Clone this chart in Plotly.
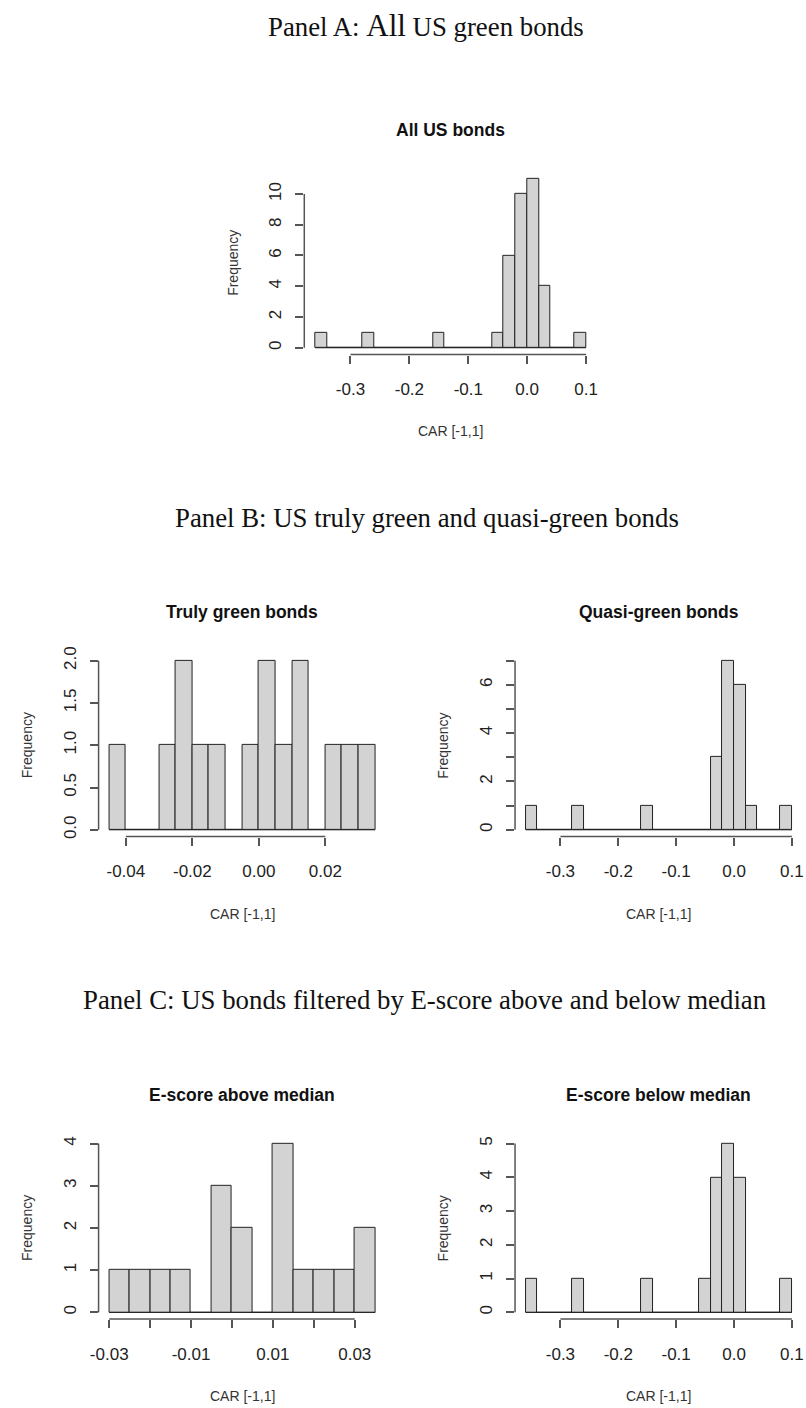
import plotly.graph_objects as go

W, H = 806, 1408

# ---------------- data (histogram counts) ----------------
panel_titles = ["All US bonds", "Truly green bonds", "Quasi-green bonds",
                "E-score above median", "E-score below median"]

# bin layout: first break and bin width
all_bin_start, all_bin_width = -0.36, 0.02
all_counts = [1, 0, 0, 0, 1, 0, 0, 0, 0, 0, 1, 0, 0, 0, 0, 1, 6, 10, 11, 4, 0, 0, 1]

truly_bin_start, truly_bin_width = -0.045, 0.005
truly_counts = [1, 0, 0, 1, 2, 1, 1, 0, 1, 2, 1, 2, 0, 1, 1, 1]

quasi_bin_start, quasi_bin_width = -0.36, 0.02
quasi_counts = [1, 0, 0, 0, 1, 0, 0, 0, 0, 0, 1, 0, 0, 0, 0, 0, 3, 7, 6, 1, 0, 0, 1]

above_bin_start, above_bin_width = -0.03, 0.005
above_counts = [1, 1, 1, 1, 0, 3, 2, 0, 4, 1, 1, 1, 2]

below_bin_start, below_bin_width = -0.36, 0.02
below_counts = [1, 0, 0, 0, 1, 0, 0, 0, 0, 0, 1, 0, 0, 0, 0, 1, 4, 5, 4, 0, 0, 0, 1]

# tick values / labels
all_xticks = [-0.3, -0.2, -0.1, 0.0, 0.1]
all_xlabels = ["-0.3", "-0.2", "-0.1", "0.0", "0.1"]
all_yticks = [0, 2, 4, 6, 8, 10]
all_ylabels = ["0", "2", "4", "6", "8", "10"]

truly_xticks = [-0.04, -0.02, 0.0, 0.02]
truly_xlabels = ["-0.04", "-0.02", "0.00", "0.02"]
truly_yticks = [0, 0.5, 1.0, 1.5, 2.0]
truly_ylabels = ["0.0", "0.5", "1.0", "1.5", "2.0"]

quasi_xticks = [-0.3, -0.2, -0.1, 0.0, 0.1]
quasi_xlabels = ["-0.3", "-0.2", "-0.1", "0.0", "0.1"]
quasi_yticks = [0, 1, 2, 3, 4, 5, 6, 7]
quasi_ylabels = ["0", "", "2", "", "4", "", "6", ""]

above_xticks = [-0.03, -0.02, -0.01, 0.0, 0.01, 0.02, 0.03]
above_xlabels = ["-0.03", "", "-0.01", "", "0.01", "", "0.03"]
above_yticks = [0, 1, 2, 3, 4]
above_ylabels = ["0", "1", "2", "3", "4"]

below_xticks = [-0.3, -0.2, -0.1, 0.0, 0.1]
below_xlabels = ["-0.3", "-0.2", "-0.1", "0.0", "0.1"]
below_yticks = [0, 1, 2, 3, 4, 5]
below_ylabels = ["0", "1", "2", "3", "4", "5"]

x_title = "CAR [-1,1]"
y_title = "Frequency"

headers = [
    "Panel A: <span style='font-size:31px'>All</span> US green bonds",
    "Panel B: US truly green and quasi-green bonds",
    "Panel C: US bonds filtered by E-score above and below median",
]

# ---------------- layout geometry (pixels) ----------------
# plot-region boxes: (left, right, top, bottom)
boxes = [
    (299.0, 595.3, 165.0, 349.0),
    (90.7, 381.6, 650.5, 834.5),
    (512.4, 803.5, 650.5, 834.5),
    (90.7, 381.6, 1136.9, 1320.5),
    (512.4, 803.5, 1136.9, 1320.5),
]
header_y = [18, 514, 999]
header_x = [422, 423, 421]

panels = [
    (all_bin_start, all_bin_width, all_counts, all_xticks, all_xlabels, all_yticks, all_ylabels),
    (truly_bin_start, truly_bin_width, truly_counts, truly_xticks, truly_xlabels, truly_yticks, truly_ylabels),
    (quasi_bin_start, quasi_bin_width, quasi_counts, quasi_xticks, quasi_xlabels, quasi_yticks, quasi_ylabels),
    (above_bin_start, above_bin_width, above_counts, above_xticks, above_xlabels, above_yticks, above_ylabels),
    (below_bin_start, below_bin_width, below_counts, below_xticks, below_xlabels, below_yticks, below_ylabels),
]


def fx(p):
    return p / W


def fy(p):
    return 1 - p / H


AXIS_COL = "#555555"
TXT_COL = "#222222"
SANS = "Liberation Sans, Arial, sans-serif"
SERIF = "Liberation Serif, Times New Roman, serif"

fig = go.Figure()
shapes = []
annotations = []
layout_axes = {}

for i, (b0, bw, counts, xt, xl, yt, yl) in enumerate(panels):
    n = i + 1
    xa = "x" if n == 1 else f"x{n}"
    ya = "y" if n == 1 else f"y{n}"
    xkey = "xaxis" if n == 1 else f"xaxis{n}"
    ykey = "yaxis" if n == 1 else f"yaxis{n}"

    edges = [b0 + k * bw for k in range(len(counts) + 1)]
    centers = [(edges[k] + edges[k + 1]) / 2 for k in range(len(counts))]

    # baseline of the histogram (zero-count bins are drawn as flat rectangles in R)
    fig.add_trace(go.Scatter(x=[edges[0], edges[-1]], y=[0, 0], mode="lines",
                             line=dict(color="#222222", width=1),
                             xaxis=xa, yaxis=ya, showlegend=False, hoverinfo="skip"))
    fig.add_trace(go.Bar(x=centers, y=counts, width=bw,
                         marker=dict(color="#D3D3D3", line=dict(color="#222222", width=1)),
                         xaxis=xa, yaxis=ya, showlegend=False))

    span = edges[-1] - edges[0]
    xr = [edges[0] - 0.04 * span, edges[-1] + 0.04 * span]
    ymax = max(counts)
    yr = [-0.04 * ymax, ymax * 1.04]

    L, R, T, B = boxes[i]
    layout_axes[xkey] = dict(
        domain=[fx(L), fx(R)], range=xr, anchor=ya,
        tickvals=xt, ticktext=xl, ticks="outside", ticklen=8, tickwidth=1.5,
        tickcolor=AXIS_COL, showline=False, showgrid=False, zeroline=False,
        tickfont=dict(family=SANS, size=17, color=TXT_COL),
        ticklabelstandoff=11,
    )
    layout_axes[ykey] = dict(
        domain=[fy(B), fy(T)], range=yr, anchor=xa,
        tickvals=yt, ticktext=yl, ticks="outside", ticklen=8, tickwidth=1.5,
        tickcolor=AXIS_COL, showline=False, showgrid=False, zeroline=False,
        tickangle=-90,
        tickfont=dict(family=SANS, size=17, color=TXT_COL),
        ticklabelstandoff=7,
    )

    # R-style axis lines spanning first..last tick
    shapes.append(dict(type="line", xref=xa, yref=f"{ya} domain",
                       x0=xt[0], x1=xt[-1], y0=0, y1=0,
                       line=dict(color=AXIS_COL, width=1.5)))
    shapes.append(dict(type="line", xref=f"{xa} domain", yref=ya,
                       x0=0, x1=0, y0=yt[0], y1=yt[-1],
                       line=dict(color=AXIS_COL, width=1.5)))

    cx = (L + R) / 2
    annotations.append(dict(text=f"<b>{panel_titles[i]}</b>", x=fx(cx), y=fy(T - 42),
                            xref="paper", yref="paper", showarrow=False,
                            xanchor="center", yanchor="middle",
                            font=dict(family=SANS, size=17.5, color="#111111")))
    annotations.append(dict(text=x_title, x=fx(cx), y=fy(B + 77.5),
                            xref="paper", yref="paper", showarrow=False,
                            xanchor="center", yanchor="middle",
                            font=dict(family=SANS, size=14, color="#333333")))
    annotations.append(dict(text=y_title, x=fx(L - 72.5), y=fy((T + B) / 2),
                            xref="paper", yref="paper", showarrow=False,
                            textangle=-90, xanchor="center", yanchor="middle",
                            font=dict(family=SANS, size=14, color="#333333")))

for j, h in enumerate(headers):
    annotations.append(dict(text=h, x=fx(header_x[j]), y=fy(header_y[j]),
                            xref="paper", yref="paper", showarrow=False,
                            xanchor="center", yanchor="middle",
                            font=dict(family=SERIF, size=26.8, color="#111111")))

fig.update_layout(
    width=W, height=H, margin=dict(l=0, r=0, t=0, b=0),
    paper_bgcolor="white", plot_bgcolor="white",
    bargap=0, shapes=shapes, annotations=annotations,
    **layout_axes,
)

fig.write_html("out.html")
